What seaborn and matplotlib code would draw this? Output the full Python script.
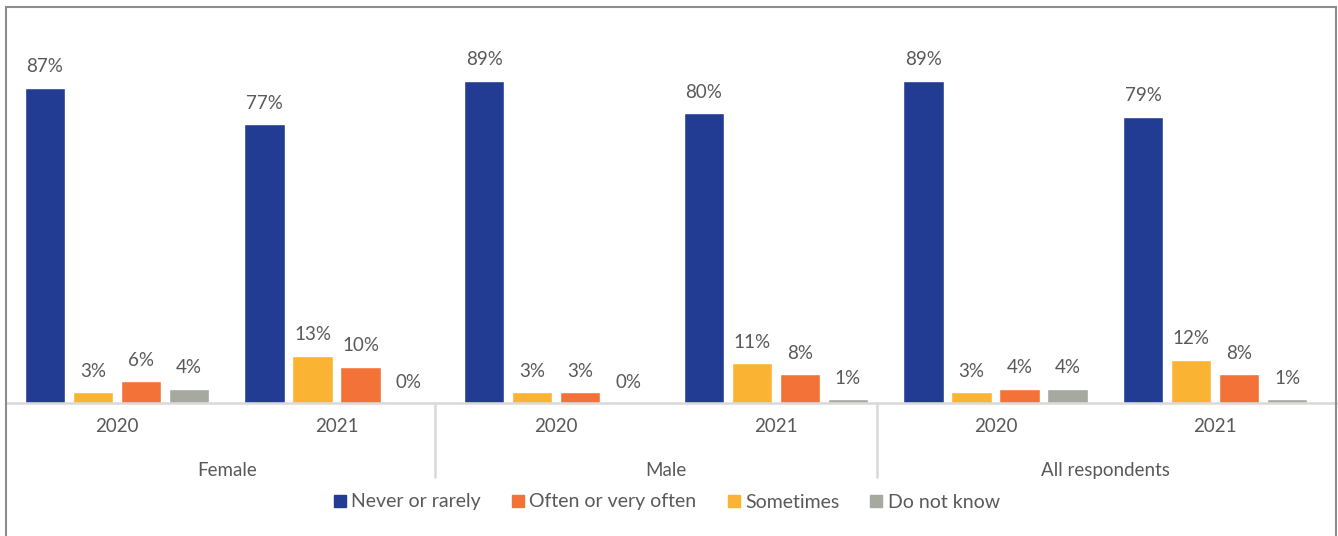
import matplotlib
matplotlib.use("Agg")
import matplotlib.pyplot as plt
from matplotlib.patches import Rectangle
from matplotlib.lines import Line2D
import matplotlib.transforms as mtransforms
import seaborn as sns
import pandas as pd

# Survey answers by group and year (percent of respondents)
groups = ["Female", "Male", "All respondents"]
years = ["2020", "2021"]
responses = ["Never or rarely", "Sometimes", "Often or very often", "Do not know"]
legend_order = ["Never or rarely", "Often or very often", "Sometimes", "Do not know"]

never_or_rarely = [87, 77, 89, 80, 89, 79]
sometimes = [3, 13, 3, 11, 3, 12]
often_or_very_often = [6, 10, 3, 8, 4, 8]
do_not_know = [4, 0, 0, 1, 4, 1]

colors = {
    "Never or rarely": "#233C93",
    "Often or very often": "#F37237",
    "Sometimes": "#FBB333",
    "Do not know": "#A5A9A0",
}

series = {
    "Never or rarely": never_or_rarely,
    "Sometimes": sometimes,
    "Often or very often": often_or_very_often,
    "Do not know": do_not_know,
}

categories = [f"{g}|{y}" for g in groups for y in years]
rows = []
for resp in responses:
    for cat, val in zip(categories, series[resp]):
        rows.append({"category": cat, "response": resp, "value": val})
df = pd.DataFrame(rows)

sns.set_style("white")
plt.rcParams["font.family"] = ["Lato", "DejaVu Sans"]
text_color = "#595959"

fig = plt.figure(figsize=(13.38, 5.36), dpi=100)
W, H = 1338, 536
ax = fig.add_axes([7 / W, (H - 403) / H, (1336 - 7) / W, (403 - 30) / H])

sns.barplot(
    data=df, x="category", y="value", hue="response",
    order=categories, hue_order=responses, palette=colors,
    width=0.874, gap=0.16, legend=False, ax=ax, saturation=1,
)

ax.set_xlim(-0.50, 5.55)
ax.set_ylim(0, 103)

for container in ax.containers:
    ax.bar_label(container, fmt="%d%%", padding=9, fontsize=13.5, color=text_color)

ax.set_xticks(range(len(categories)))
ax.set_xticklabels([c.split("|")[1] for c in categories], fontsize=13.5, color=text_color)
ax.tick_params(axis="x", length=0, pad=11)
ax.set_yticks([])
ax.set_xlabel("")
ax.set_ylabel("")
for side in ["top", "right", "left"]:
    ax.spines[side].set_visible(False)
ax.spines["bottom"].set_color("#D9D9D9")
ax.spines["bottom"].set_linewidth(1.8)

# Group names and separators under the year labels
trans = mtransforms.blended_transform_factory(ax.transData, ax.transAxes)
for i, g in enumerate(groups):
    ax.text(2 * i + 0.5, -0.18, g, transform=trans, ha="center", va="center",
            fontsize=13.5, color=text_color)
sep_bottom = (403 - 477) / 373
for xs in [1.45, 3.46]:
    ax.add_line(Line2D([xs, xs], [0, sep_bottom], transform=trans,
                       color="#D9D9D9", lw=1.8, clip_on=False))

handles = [Line2D([], [], marker="s", linestyle="none", markersize=9,
                  markerfacecolor=colors[r], markeredgecolor=colors[r])
           for r in legend_order]
fig.legend(handles, legend_order, loc="center", bbox_to_anchor=(0.497, (H - 502) / H),
           ncol=4, frameon=False, fontsize=14, labelcolor=text_color,
           handletextpad=0.1, columnspacing=1.4, handlelength=1.0)

# Chart frame
fig.add_artist(Rectangle((6 / W, -0.05), (1336 - 6) / W, (H - 7) / H + 0.05,
                         transform=fig.transFigure, fill=False,
                         edgecolor="#8C8C8C", lw=1.5))

fig.savefig("out.png", dpi=100)
